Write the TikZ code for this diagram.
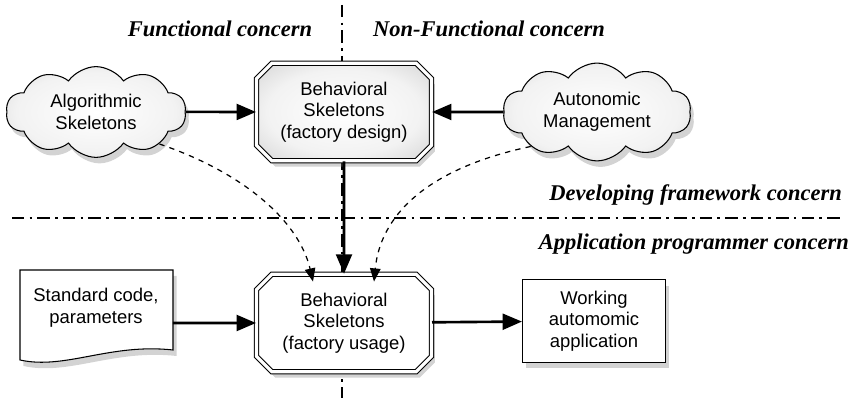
\documentclass[tikz,border=0pt]{standalone}
\usepackage{fontspec}
\setmainfont{Liberation Serif}
\setsansfont{Liberation Sans}
\usetikzlibrary{shapes.misc,shapes.symbols,shadows,arrows.meta}
\pgfdeclareradialshading{greyglow}{\pgfpointorigin}{color(0bp)=(white);
	color(22bp)=(black!5); color(45bp)=(black!24); color(70bp)=(black!34)}

\begin{document}
\begin{tikzpicture}[x=0.02cm, y=-0.02cm,
	>={Triangle[length=11pt,width=9pt]},
	every node/.style={font=\sffamily\fontsize{10.5}{12.3}\selectfont, align=center},
	heading/.style={font=\rmfamily\bfseries\itshape\fontsize{12.8}{15}\selectfont},
	divider/.style={line width=0.6pt, dash pattern=on 7pt off 3pt on 1.5pt off 3pt},
	dropsh/.style={drop shadow={shadow xshift=0.7mm, shadow yshift=-1.2mm,
				opacity=0.35}},
	skel/.style={chamfered rectangle, chamfered rectangle xsep=0.2cm, draw,
				double, double distance=1.8pt, line width=0.6pt,
				minimum width=3.5cm, minimum height=1.95cm, dropsh},
	blob/.style={cloud, cloud puffs=10, cloud puff arc=110, aspect=2.6, draw,
				line width=0.6pt, minimum width=3.6cm, minimum height=1.4cm,
				shading=greyglow, dropsh},
	flow/.style={->, line width=1.5pt},
	dep/.style={->, dashed, line width=0.7pt, >={Triangle[length=7.5pt,width=6pt]}}]
	\useasboundingbox (0,0) rectangle (862,401);
	% concern borders
	\draw[divider] (342,5) -- (342,398);
	\draw[divider] (12,218) -- (841,218);
	\node[heading] (func) at (220,29) {Functional concern};
	\node[heading] (nonfunc) at (489,29) {Non-Functional concern};
	\node[heading, anchor=east] (devel) at (848,195) {Developing framework concern};
	\node[heading, anchor=east] (appl) at (855,244) {Application programmer concern};

	\node[skel, shading=greyglow] (design) at (344,112)
		{Behavioral\\Skeletons\\(factory design)};
	\node[blob] (algo) at (96,112) {Algorithmic\\Skeletons};
	\node[blob] (auto) at (597,112) {Autonomic\\Management};
	\node[skel, fill=white] (usage) at (344,323)
		{Behavioral\\Skeletons\\(factory usage)};

	\draw[fill=white, dropsh, line width=0.6pt] (20,270) -- (173,270) -- (173,350)
		.. controls (110,343) and (65,370) .. (20,360) -- cycle;
	\node[minimum width=3.06cm, minimum height=1.5cm] (code) at (96,308)
		{Standard code,\\parameters};
	\node[draw, fill=white, dropsh, line width=0.6pt, minimum width=2.86cm,
		minimum height=1.66cm] (work) at (594,321) {Working\\automomic\\application};

	\draw[flow] (algo) -- (design);
	\draw[flow] (auto) -- (design);
	\draw[flow] (design) -- (usage);
	\draw[flow] (code.east |- usage) -- (usage);
	\draw[flow] (usage) -- (work);
	\draw[dep] (algo.south east) .. controls (250,175) and (300,225) .. (usage.north west -| 313,0);
	\draw[dep] (auto.south west) .. controls (420,170) and (380,220) .. (usage.north east -| 374,0);
\end{tikzpicture}
\end{document}
